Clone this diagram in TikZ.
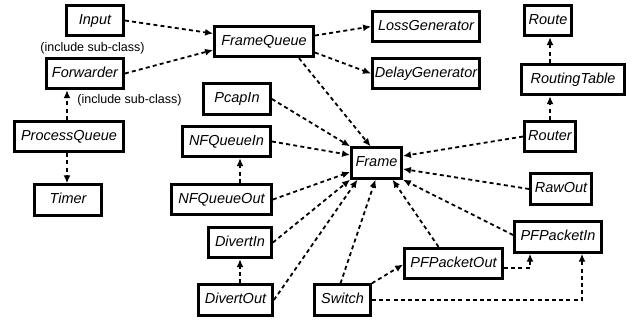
\documentclass[tikz,border=0pt]{standalone}
\usepackage{fontspec}
\setmainfont{Liberation Sans}
\usetikzlibrary{arrows.meta,positioning,calc}

\begin{document}
\begin{tikzpicture}[x=1pt,y=-1pt,
    cls/.style={draw,line width=2.8pt,fill=white,minimum height=30.5pt,
      inner xsep=1pt,text height=10.5pt,text depth=3pt,
      font=\fontsize{14.5}{16}\selectfont\itshape},
    dep/.style={line width=1.8pt,dash pattern=on 4pt off 3.2pt,
      -{Latex[length=8pt,width=7pt]}},
    note/.style={font=\fontsize{12.5}{14}\selectfont,inner sep=0pt}]
  \useasboundingbox (0,0) rectangle (634,325);

  % left column
  \node[cls,minimum width=57pt]  (input)     at (95,20.5)   {Input};
  \node[cls,minimum width=77pt]  (forwarder) at (85,73.5)   {Forwarder};
  \node[cls,minimum width=109pt] (procq)     at (69,136.5)  {ProcessQueue};
  \node[cls,minimum width=67pt]  (timer)     at (68,200)    {Timer};
  \node[note] (sub1) at (92.5,48)  {(include sub-class)};
  \node[note] (sub2) at (129.5,100) {(include sub-class)};

  % queue and generators
  \node[cls,minimum width=99pt]  (fqueue)    at (264,41.5)  {FrameQueue};
  \node[cls,minimum width=107pt] (lossgen)   at (426,26.5)  {LossGenerator};
  \node[cls,minimum width=107pt] (delaygen)  at (426,73.5)  {DelayGenerator};

  % inputs / outputs round the frame
  \node[cls,minimum width=67pt]  (pcapin)    at (237,99)    {PcapIn};
  \node[cls,minimum width=88pt]  (nfqin)     at (226.5,141.5) {NFQueueIn};
  \node[cls,minimum width=100pt] (nfqout)    at (221.5,199.5) {NFQueueOut};
  \node[cls,minimum width=63pt]  (divertin)  at (240,242.5) {DivertIn};
  \node[cls,minimum width=74pt]  (divertout) at (235.5,300) {DivertOut};
  \node[cls,minimum width=56pt]  (switch)    at (342.5,300) {Switch};
  \node[cls,minimum width=98pt]  (pfout)     at (453.5,263.5) {PFPacketOut};
  \node[cls,minimum width=87pt]  (pfin)      at (558,237)   {PFPacketIn};
  \node[cls,minimum width=61pt]  (rawout)    at (561,189)   {RawOut};
  \node[cls,minimum width=51pt]  (router)    at (550,136.5) {Router};
  \node[cls,minimum width=103pt] (rtable)    at (573,79.5)  {RoutingTable};
  \node[cls,minimum width=47pt]  (route)     at (548,20.5)  {Route};
  \node[cls,minimum width=50pt]  (frame)     at (376.5,163) {Frame};

  % top part
  \draw[dep] (input.east) -- ($(fqueue.west)+(0,-8)$);
  \draw[dep] (forwarder.east) -- ($(fqueue.west)+(0,8.5)$);
  \draw[dep] ($(fqueue.east)+(0,-6)$) -- (lossgen.west);
  \draw[dep] ($(fqueue.east)+(0,11)$) -- (delaygen.west);
  \draw[dep] ($(fqueue.south)+(35,0)$) -- ($(frame.north)+(-6,0)$);
  \draw[dep] ([xshift=-2pt]procq.north) -- ([xshift=-2pt]procq.north |- forwarder.south);
  \draw[dep] ([xshift=-2pt]procq.south) -- ([xshift=-2pt]procq.south |- timer.north);

  % into the frame
  \draw[dep] (pcapin.east) -- (frame.north west);
  \draw[dep] (nfqin.east) -- ($(frame.west)+(0,-8)$);
  \draw[dep] (nfqout.east) -- ($(frame.west)+(0,9)$);
  \draw[dep] (divertin.east) -- (frame.south west);
  \draw[dep] (divertout.east) -- ($(frame.south)+(-19,0)$);
  \draw[dep] ([xshift=-2pt]switch.north) -- ($(frame.south)+(-1,0)$);
  \draw[dep] ([xshift=-15pt]pfout.north) -- ($(frame.south)+(16,0)$);
  \draw[dep] ($(pfin.west)+(0,-2)$) -- (frame.south east);
  \draw[dep] (rawout.west) -- ($(frame.east)+(0,6)$);
  \draw[dep] (router.west) -- ($(frame.east)+(0,-7)$);

  % vertical ones
  \draw[dep] ([xshift=18.5pt]nfqout.north) -- ([xshift=18.5pt]nfqout.north |- nfqin.south);
  \draw[dep] (divertin.south |- divertout.north) -- (divertin.south);
  \draw[dep] (router.north) -- (router.north |- rtable.south);
  \draw[dep] (router.north |- rtable.north) -- (router.north |- route.south);

  % switch and pf
  \draw[dep] (switch.north east) -- ($(pfout.west)+(0,1)$);
  \draw[dep] (switch.east) -| ([xshift=24pt]pfin.south);
  \draw[dep] ($(pfout.east)+(0,4.5)$) -| ([xshift=-28pt]pfin.south);
\end{tikzpicture}
\end{document}
